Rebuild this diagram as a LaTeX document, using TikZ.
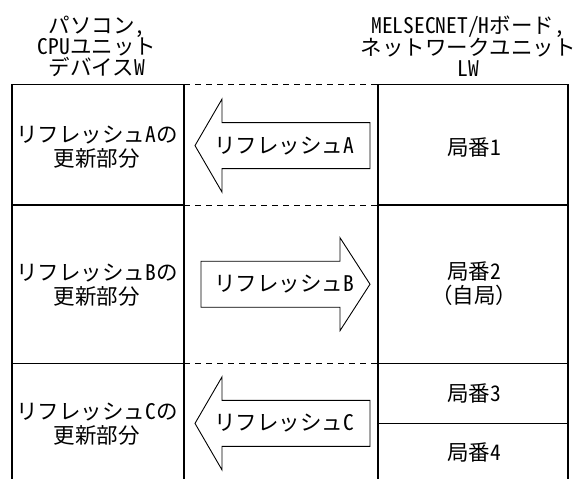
\documentclass[tikz,border=0pt]{standalone}
\usepackage{fontspec}
\setmainfont{Noto Sans CJK JP}[RawFeature=+hwid]
\newfontfamily\fullwidth{Noto Sans CJK JP}
\usetikzlibrary{calc}
\newcommand{\LeftL}{12}
\newcommand{\LeftR}{184}
\newcommand{\RightL}{378}
\newcommand{\RightR}{568}
\newcommand{\TopY}{84}
\newcommand{\RowAB}{205}
\newcommand{\RowBC}{363.5}
\newcommand{\SplitY}{423.5}
\newcommand{\BottomY}{482}
\newcommand{\LeftX}{97}
\newcommand{\RightX}{474}
\newcommand{\LabelX}{284}

\begin{document}
\begin{tikzpicture}[
    x=1pt, y=-1pt,
    head/.style={font=\fontsize{21.5}{21}\selectfont, align=center, inner sep=0pt},
    cell/.style={font=\fontsize{21.5}{24}\selectfont, align=center, inner sep=0pt},
    border/.style={line width=1.3pt, draw=black},
    topline/.style={line width=0.9pt, draw=black},
    divide/.style={line width=1.8pt, draw=black},
    gap/.style={dash pattern=on 6pt off 5pt, line width=0.8pt, draw=black},
    block/.style={draw=black, line width=0.9pt, fill=white, line join=miter},
  ]
\useasboundingbox (0,0) rectangle (579,479);

% --- Column headings ------------------------------------------------------------
\node[head] (pchead) at (\LeftX, 46) {パソコン,\\CPUユニット\\デバイスW};
\node[head] (nethead) at (468, 46) {MELSECNET/Hボード,\\ネットワークユニット\\LW};

% --- The two columns, open at the bottom ------------------------------------------
\draw[border] (\LeftL,\BottomY) -- (\LeftL,\TopY);
\draw[border] (\LeftR,\TopY) -- (\LeftR,\BottomY);
\draw[border] (\RightL,\BottomY) -- (\RightL,\TopY);
\draw[border] (\RightR,\TopY) -- (\RightR,\BottomY);
\draw[topline] (\LeftL,\TopY) -- (\LeftR,\TopY);
\draw[topline] (\RightL,\TopY) -- (\RightR,\TopY);
\foreach \yy in {\RowAB,\RowBC} {
  \draw[divide] (\LeftL,\yy) -- (\LeftR,\yy);
  \draw[divide] (\RightL,\yy) -- (\RightR,\yy);
}
\draw[divide] (\RightL,\SplitY) -- (\RightR,\SplitY);
\foreach \yy in {\TopY,\RowAB,\RowBC} {
  \draw[gap] (\LeftR,\yy) -- (\RightL,\yy);
}

% --- What each refresh updates --------------------------------------------------------
\node[cell] (partA) at (\LeftX, 146.7) {リフレッシュAの\\更新部分};
\node[cell] (partB) at (\LeftX, 285) {リフレッシュBの\\更新部分};
\node[cell] (partC) at (\LeftX, 424) {リフレッシュCの\\更新部分};

% --- Stations on the network ----------------------------------------------------------
\node[cell] (st1) at (\RightX, 147) {局番1};
\node[cell] (st2) at (\RightX, 284) {局番2\\{\fullwidth （自局）}};
\node[cell] (st3) at (\RightX, 393.3) {局番3};
\node[cell] (st4) at (\RightX, 452.7) {局番4};

% --- Refresh arrows: tip, head base, tail -------------------------------------------------
\foreach \n/\y/\tip/\base/\tail in {A/145.6/195/222/370, B/284.2/370/340/201, C/423.4/195/222/370} {
  \draw[block] (\tail,\y-23) -- (\base,\y-23) -- (\base,\y-46.5) -- (\tip,\y)
    -- (\base,\y+46.5) -- (\base,\y+23) -- (\tail,\y+23) -- cycle;
  \node[cell] (ref\n) at (\LabelX,\y) {リフレッシュ\n};
}

\end{tikzpicture}
\end{document}
